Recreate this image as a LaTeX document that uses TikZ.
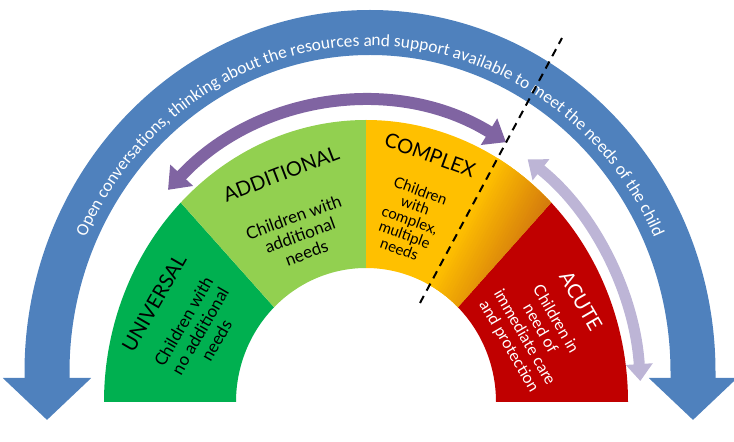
\documentclass[tikz,border=0pt]{standalone}
\usepackage{fontspec}
\usepackage{xcolor}
\usepackage{tikz}
\usetikzlibrary{arrows.meta,decorations.text}
\newfontfamily\segfont{Lato}
\newfontfamily\arcfont{Carlito}
\definecolor{univ}{HTML}{00B050}
\definecolor{addl}{HTML}{92D050}
\definecolor{cmplx}{HTML}{FFC000}
\definecolor{cmplxdeep}{HTML}{D0740E}
\definecolor{acute}{HTML}{C00000}
\definecolor{talk}{HTML}{4F81BD}
\definecolor{upbar}{HTML}{8064A2}
\definecolor{downbar}{HTML}{BDB5D6}

\begin{document}
\begin{tikzpicture}[x=1pt,y=1pt,
    title/.style={font=\segfont\fontsize{20}{22}\selectfont},
    desc/.style={font=\segfont\fontsize{17}{19}\selectfont, align=center}]
\useasboundingbox (0,0) rectangle (734,442);

% the four bands of the half ring
\begin{scope}[shift={(366,40)}]
  \foreach \s/\e/\c in {180/135/univ,135/90/addl,90/45/cmplx,45/0/acute}
    \fill[\c] (\s:262pt and 282pt) arc[start angle=\s, end angle=\e, x radius=262pt, y radius=282pt]
      -- (\e:130pt and 134pt) arc[start angle=\e, end angle=\s, x radius=130pt, y radius=134pt] -- cycle;
  % orange fade in the complex band
  \begin{scope}
    \clip (90:262pt and 282pt) arc[start angle=90, end angle=45, x radius=262pt, y radius=282pt]
      -- (45:130pt and 134pt) arc[start angle=45, end angle=90, x radius=130pt, y radius=134pt] -- cycle;
    \foreach \i in {0,...,29}{
      \pgfmathtruncatemacro\p{100-\i*100/29}
      \fill[cmplx!\p!cmplxdeep, shift={(54,99)}, rotate=-28.2] (\i*2.5,-60) rectangle ++(3,420);
    }
  \end{scope}
  \coordinate (upL) at (135:280pt and 300pt);
  \coordinate (downT) at (54:275pt and 300pt);
\end{scope}

\node[title, rotate=60] (universal) at (154,139) {UNIVERSAL};
\node[desc, rotate=60] (univtext) at (200,111) {Children with\\no additional\\needs};
\node[title, rotate=21] (additional) at (281,268) {ADDITIONAL};
\node[desc, rotate=20] (addltext) at (300,207) {Children with\\additional\\needs};
\node[title, rotate=-20] (complex) at (430,287) {COMPLEX};
\node[desc, rotate=-20, font=\segfont\fontsize{15}{15.5}\selectfont] (cmplxtext) at (410,222) {Children\\with\\complex,\\multiple\\needs};
\node[title, rotate=-60, white] (acute) at (581,141) {ACUTE};
\node[desc, rotate=-60, white, font=\segfont\fontsize{16}{18}\selectfont] (acutetext) at (532,109) {Children in\\need of\\immediate care\\and protection};

% arrows between the bands
\draw[upbar, line width=12pt, {Triangle[width=30pt,length=20pt]}-{Triangle[width=30pt,length=20pt]}]
  (upL) arc[start angle=135, end angle=60, x radius=280pt, y radius=300pt];
\draw[downbar, line width=11pt, {Triangle[width=26pt,length=17pt]}-{Triangle[width=26pt,length=17pt]}]
  (downT) arc[start angle=54, end angle=4, x radius=275pt, y radius=300pt];

% the big blue arrow
\coordinate (talkL) at (47,22);
\coordinate (talkR) at (693,22);
\draw[talk, line width=45pt, {Triangle[width=86pt,length=42pt]}-{Triangle[width=86pt,length=42pt]}]
  (talkL) -- ++(0,48) arc[start angle=180, end angle=0, x radius=323pt, y radius=339.5pt] -- (talkR);
\path[decorate, decoration={text along path, text align=center,
    text={|\arcfont\fontsize{17.4}{19}\selectfont\color{white}|Open conversations, thinking about the resources and support available to meet the needs of the child}}]
  (58,70) arc[start angle=180, end angle=0, x radius=312pt, y radius=326pt];

% dashed cut
\coordinate (cutA) at (420,139);
\coordinate (cutB) at (562,404);
\draw[line width=2pt, dash pattern=on 8pt off 6pt] (cutA) -- (cutB);
\end{tikzpicture}
\end{document}
